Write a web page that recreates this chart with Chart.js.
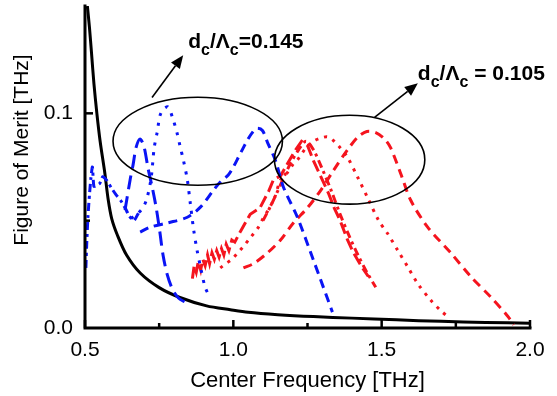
<!DOCTYPE html>
<html><head><meta charset="utf-8">
<script src="https://cdn.jsdelivr.net/npm/chart.js@4/dist/chart.umd.min.js"></script>
<style>html,body{margin:0;padding:0;background:#fff}#wrap{width:557px;height:396px}</style>
</head><body><div id="wrap"><canvas id="c" width="557" height="396"></canvas></div>
<script>
// ---- data (x in THz, y = figure of merit in THz) ----
const xTickLabels = [0.5, 1.0, 1.5, 2.0];
const yTickLabels = [0.0, 0.1];

const blackX = [0.508,0.515,0.522,0.53,0.54,0.551,0.567,0.578,0.59,0.61,0.64,0.686,0.75,0.82,0.91,0.99,1.05,1.15,1.27,1.4,1.55,1.7,1.85,2.0];
const blackY = [0.15,0.14,0.128,0.114,0.1,0.087,0.072,0.06,0.051,0.043,0.034,0.0256,0.0188,0.0142,0.0103,0.0085,0.0073,0.0062,0.0053,0.0046,0.0038,0.0031,0.0026,0.0022];

// d_c/Λ_c = 0.145 (blue)
const blue1X = [0.503,0.506,0.51,0.515,0.52,0.525,0.53,0.54,0.55,0.56,0.572,0.59,0.605,0.62,0.635,0.65,0.665,0.68];
const blue1Y = [0.028,0.04,0.052,0.062,0.07,0.075,0.066,0.0665,0.0674,0.0705,0.069,0.065,0.062,0.0595,0.056,0.052,0.05,0.0535];
const blue2X = [0.635,0.652,0.662,0.672,0.685,0.698,0.713,0.726,0.74,0.752,0.763,0.777,0.795,0.815,0.838];
const blue2Y = [0.055,0.069,0.076,0.084,0.088,0.085,0.074,0.066,0.056,0.045,0.034,0.025,0.018,0.014,0.012];
const blue3X = [0.655,0.675,0.695,0.709,0.723,0.733,0.743,0.753,0.765,0.78,0.795,0.81,0.82,0.832,0.845,0.855,0.866,0.878,0.89,0.905,0.922];
const blue3Y = [0.051,0.053,0.056,0.0605,0.07,0.0837,0.091,0.099,0.102,0.103,0.098,0.091,0.085,0.078,0.069,0.058,0.046,0.036,0.028,0.019,0.014];
const blue4X = [0.686,0.72,0.78,0.845,0.889,0.932,0.956,0.983,1.0,1.017,1.03,1.047,1.064,1.08,1.098,1.115,1.142,1.169,1.216,1.27,1.334];
const blue4Y = [0.0447,0.047,0.049,0.0516,0.0563,0.064,0.068,0.0713,0.075,0.0795,0.083,0.0874,0.091,0.093,0.092,0.0865,0.078,0.0656,0.0516,0.0316,0.0074];

// d_c/Λ_c = 0.105 (red)
const red1X = [0.862,0.868,0.875,0.882,0.89,0.897,0.905,0.913,0.92,0.928,0.936,0.944,0.952,0.96,0.968,0.976,0.985,0.995,1.005,1.024,1.057,1.09,1.12,1.135,1.16,1.18,1.21,1.23,1.25,1.27,1.29,1.32,1.34,1.36,1.385,1.405,1.435,1.455];
const red1Y = [0.023,0.029,0.026,0.031,0.027,0.032,0.029,0.034,0.03,0.035,0.032,0.036,0.033,0.037,0.034,0.039,0.036,0.041,0.04,0.045,0.053,0.056,0.064,0.069,0.071,0.076,0.083,0.087,0.085,0.078,0.072,0.063,0.056,0.05,0.041,0.035,0.028,0.024];
const red2X = [0.956,0.975,0.995,1.015,1.034,1.057,1.085,1.1,1.118,1.14,1.159,1.18,1.2,1.22,1.245,1.27,1.295,1.318,1.34,1.36,1.385,1.42,1.455,1.49,1.52,1.555,1.59,1.62,1.665,1.7,1.73];
const red2Y = [0.028,0.03,0.032,0.035,0.038,0.042,0.047,0.051,0.055,0.061,0.069,0.072,0.076,0.079,0.084,0.087,0.0885,0.089,0.087,0.084,0.0795,0.07,0.06,0.05,0.044,0.036,0.028,0.021,0.013,0.008,0.0045];
const red3X = [1.034,1.068,1.115,1.159,1.203,1.25,1.294,1.338,1.385,1.42,1.45,1.48,1.51,1.53,1.564,1.598,1.655,1.733,1.8,1.868,1.925,1.945];
const red3Y = [0.028,0.03,0.035,0.041,0.049,0.056,0.064,0.0735,0.083,0.089,0.0915,0.091,0.088,0.084,0.072,0.0595,0.047,0.035,0.024,0.0144,0.0055,0.0015];
const red4X = [1.1,1.13,1.16,1.19,1.22,1.245,1.27,1.3,1.33,1.36,1.39,1.42,1.45,1.48];
const red4Y = [0.05,0.058,0.067,0.076,0.083,0.087,0.083,0.074,0.064,0.053,0.043,0.034,0.026,0.019];

// annotations (data units)
const ellipses = [ {cx:0.88, cy:0.087, rx:0.2855, ry:0.0205}, {cx:1.392, cy:0.0784, rx:0.2534, ry:0.0207} ];
const arrows = [ {x1:0.726, y1:0.1074, x2:0.831, y2:0.127}, {x1:1.476, y1:0.0981, x2:1.622, y2:0.114} ];
const labels = [ {x:0.848, y:0.1305, val:'=0.145'}, {x:1.622, y:0.1155, val:' = 0.105'} ];

const BLUE = '#0a14f5', RED = '#f5141e';
const pts = (xs, ys) => xs.map((x, i) => ({x, y: ys[i]}));
const ds = (xs, ys, color, dash, tension, cap) => ({data: pts(xs, ys), borderColor: color, borderWidth: 3, borderDash: dash, borderCapStyle: cap || 'butt', showLine: true, pointRadius: 0, tension: tension, fill: false});

Chart.defaults.font.family = "'Liberation Sans', Arial, sans-serif";
Chart.defaults.color = '#000';

const annot = {
  id: 'annot',
  afterDraw(chart) {
    const c = chart.ctx, xs = chart.scales.x, ys = chart.scales.y, a = chart.chartArea;
    c.save();
    c.strokeStyle = '#000'; c.fillStyle = '#000'; c.setLineDash([]);
    // axes
    c.lineWidth = 3; c.lineCap = 'square';
    c.beginPath(); c.moveTo(a.left, a.top); c.lineTo(a.left, a.bottom); c.lineTo(a.right, a.bottom); c.stroke();
    c.lineCap = 'butt'; c.lineWidth = 2.5;
    [0.5,1.0,1.5,2.0].forEach(v => { const p = xs.getPixelForValue(v); c.beginPath(); c.moveTo(p, a.bottom); c.lineTo(p, a.bottom - 8); c.stroke(); });
    [0.75,1.25,1.75].forEach(v => { const p = xs.getPixelForValue(v); c.beginPath(); c.moveTo(p, a.bottom); c.lineTo(p, a.bottom - 5); c.stroke(); });
    [0.1].forEach(v => { const p = ys.getPixelForValue(v); c.beginPath(); c.moveTo(a.left, p); c.lineTo(a.left + 8, p); c.stroke(); });
    [0.05].forEach(v => { const p = ys.getPixelForValue(v); c.beginPath(); c.moveTo(a.left, p); c.lineTo(a.left + 5, p); c.stroke(); });
    // ellipses
    c.lineWidth = 1.6;
    ellipses.forEach(e => {
      const cx = xs.getPixelForValue(e.cx), cy = ys.getPixelForValue(e.cy);
      const rx = Math.abs(xs.getPixelForValue(e.cx + e.rx) - cx), ry = Math.abs(ys.getPixelForValue(e.cy + e.ry) - cy);
      c.beginPath(); c.ellipse(cx, cy, rx, ry, 0, 0, Math.PI * 2); c.stroke();
    });
    // arrows
    arrows.forEach(r => {
      const x1 = xs.getPixelForValue(r.x1), y1 = ys.getPixelForValue(r.y1), x2 = xs.getPixelForValue(r.x2), y2 = ys.getPixelForValue(r.y2);
      const ang = Math.atan2(y2 - y1, x2 - x1), L = 13, W = 5.5;
      const bx = x2 - L * Math.cos(ang), by = y2 - L * Math.sin(ang);
      c.lineWidth = 1.6;
      c.beginPath(); c.moveTo(x1, y1); c.lineTo(bx, by); c.stroke();
      c.beginPath(); c.moveTo(x2, y2);
      c.lineTo(bx + W * Math.sin(ang), by - W * Math.cos(ang));
      c.lineTo(bx - W * Math.sin(ang), by + W * Math.cos(ang));
      c.closePath(); c.fill();
    });
    // labels d_c/Λ_c = value
    labels.forEach(l => {
      let x = xs.getPixelForValue(l.x); const y = ys.getPixelForValue(l.y);
      const parts = [['d', 0], ['c', 1], ['/', 0], ['\u039B', 0], ['c', 1], [l.val, 0]];
      c.textBaseline = 'alphabetic'; c.textAlign = 'left';
      parts.forEach(([t, sub]) => {
        c.font = sub ? "bold 16px 'Liberation Sans', Arial, sans-serif" : "bold 21px 'Liberation Sans', Arial, sans-serif";
        c.fillText(t, x, y + (sub ? 7 : 0));
        x += c.measureText(t).width;
      });
    });
    // y title
    c.save();
    c.translate(22, 150); c.rotate(-Math.PI / 2);
    c.font = "21px 'Liberation Sans', Arial, sans-serif"; c.textAlign = 'center'; c.textBaseline = 'middle';
    c.fillText('Figure of Merit [THz]', 0, 0);
    c.restore();
    c.restore();
  }
};

new Chart(document.getElementById('c'), {
  type: 'scatter',
  data: { datasets: [
    ds(blue1X, blue1Y, BLUE, [8,4,3,4], 0.2),
    ds(blue2X, blue2Y, BLUE, [14,7], 0.3),
    ds(blue3X, blue3Y, BLUE, [3,7], 0.3),
    ds(blue4X, blue4Y, BLUE, [9,6], 0.3),
    ds(red1X, red1Y, RED, [12,5], 0),
    ds(red2X, red2Y, RED, [3,6], 0.3),
    ds(red3X, red3Y, RED, [9,6], 0.3),
    ds(red4X, red4Y, RED, [8,4,3,4], 0.3),
    ds(blackX, blackY, '#000', [], 0.3)
  ]},
  options: {
    responsive: false, animation: false,
    layout: { padding: { left: 0, right: 27, top: 6, bottom: 0 } },
    plugins: { legend: { display: false }, tooltip: { enabled: false } },
    scales: {
      x: { type: 'linear', min: 0.5, max: 2.0,
        grid: { display: false, drawTicks: false }, border: { display: false },
        ticks: { stepSize: 0.5, padding: 10, font: { size: 21 }, color: '#000',
          callback: v => xTickLabels.some(t => Math.abs(t - v) < 1e-9) ? v.toFixed(1) : '' },
        title: { display: true, text: 'Center Frequency [THz]', font: { size: 22 }, color: '#000', padding: { top: 0, bottom: 2 } },
        afterFit(s) { s.height = 68; s.paddingLeft = 0; s.paddingRight = 0; } },
      y: { type: 'linear', min: 0, max: 0.15,
        grid: { display: false, drawTicks: false }, border: { display: false },
        ticks: { stepSize: 0.05, padding: 12, font: { size: 21 }, color: '#000',
          callback: v => yTickLabels.some(t => Math.abs(t - v) < 1e-9) ? v.toFixed(1) : '' },
        afterFit(s) { s.width = 85; s.paddingTop = 0; s.paddingBottom = 0; } }
    }
  },
  plugins: [annot]
});
</script></body></html>
